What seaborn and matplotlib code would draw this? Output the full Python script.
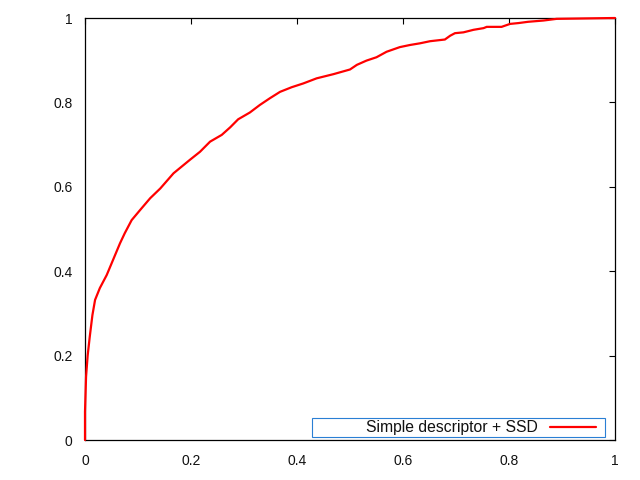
import matplotlib
matplotlib.use("Agg")
import matplotlib.pyplot as plt
from matplotlib.patches import Rectangle
import seaborn as sns
import pandas as pd

# ROC curve values
fpr = [0, 0, 0.002, 0.005, 0.009, 0.014, 0.019, 0.028, 0.041, 0.053, 0.066, 0.075,
       0.088, 0.104, 0.123, 0.142, 0.167, 0.198, 0.217, 0.236, 0.258, 0.274, 0.289,
       0.311, 0.330, 0.349, 0.368, 0.390, 0.412, 0.437, 0.469, 0.500, 0.513, 0.531,
       0.550, 0.569, 0.594, 0.613, 0.632, 0.651, 0.679, 0.689, 0.698, 0.714, 0.733,
       0.752, 0.758, 0.786, 0.802, 0.818, 0.836, 0.865, 0.890, 1.0]
tpr = [0, 0.067, 0.15, 0.20, 0.245, 0.296, 0.332, 0.36, 0.391, 0.427, 0.466, 0.49,
       0.521, 0.545, 0.573, 0.596, 0.632, 0.664, 0.683, 0.707, 0.723, 0.741, 0.760,
       0.776, 0.794, 0.810, 0.825, 0.836, 0.845, 0.857, 0.867, 0.878, 0.889, 0.899,
       0.907, 0.920, 0.931, 0.936, 0.940, 0.945, 0.949, 0.958, 0.964, 0.966, 0.972,
       0.976, 0.979, 0.979, 0.986, 0.988, 0.991, 0.994, 0.998, 1.0]
series_label = "Simple descriptor + SSD"
ticks = [0, 0.2, 0.4, 0.6, 0.8, 1]
tick_labels = ["0", "0.2", "0.4", "0.6", "0.8", "1"]

sns.set_style("white")
plt.rcParams["font.family"] = ["Liberation Sans", "DejaVu Sans"]

df = pd.DataFrame({"fpr": fpr, "tpr": tpr, "series": series_label})

fig = plt.figure(figsize=(6.4, 4.8), dpi=100)
ax = fig.add_axes([85 / 640, 40 / 480, 530 / 640, 422 / 480])

sns.lineplot(data=df, x="fpr", y="tpr", hue="series", palette=["#ff0000"],
             estimator=None, sort=False, linewidth=1.6, ax=ax, legend=False)
for ln in ax.lines:
    ln.set_clip_on(False)
    ln.set_zorder(3)
    ln.set_solid_joinstyle("miter")

ax.set_xlim(0, 1)
ax.set_ylim(0, 1)
ax.set_xticks(ticks)
ax.set_xticklabels(tick_labels)
ax.set_yticks(ticks)
ax.set_yticklabels(tick_labels)
ax.set_xlabel("")
ax.set_ylabel("")
ax.tick_params(direction="in", length=4.5, width=0.8, color="black",
               top=True, right=True, labelsize=10, pad=9, labelcolor="#111111")
ax.tick_params(axis="x", pad=10)
for sp in ax.spines.values():
    sp.set_visible(True)
    sp.set_color("black")
    sp.set_linewidth(0.9)
    sp.set_zorder(2)

# gnuplot-style key: box, text right-aligned, line sample to the right
ax.add_patch(Rectangle((0.428, 0.0064), 0.554, 0.045, transform=ax.transAxes,
                       fill=False, edgecolor="#2a7fd4", linewidth=0.8, zorder=4))
ax.text(0.855, 0.029, series_label, transform=ax.transAxes, ha="right",
        va="center", fontsize=11.3, color="#111111", zorder=5)
ax.plot([0.877, 0.964], [0.030, 0.030], transform=ax.transAxes,
        color="#ff0000", linewidth=1.6, zorder=5)

fig.savefig("out.png", dpi=100)
